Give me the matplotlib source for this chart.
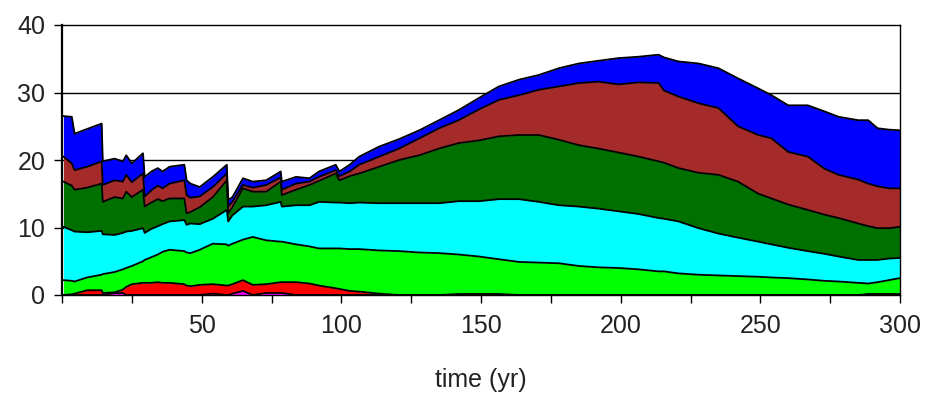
import matplotlib
matplotlib.use('Agg')
import matplotlib.pyplot as plt
import numpy as np

# time (yr)
time = [0.5, 3.5, 4.5, 9, 14.2, 14.6, 18.8, 21.8, 23, 25,
        29.0, 29.6, 32, 34.3, 36, 38.5, 43.8, 44.6, 46, 49.3,
        54, 59.0, 59.5, 61, 64.8, 68.3, 73.1, 78.3, 78.7, 83.8,
        88.6, 92, 98, 99.3, 103, 106.4, 113.6, 120.7, 127.9, 135,
        142, 149.3, 156.4, 163.6, 170.7, 177.9, 185, 192, 199.3, 206.4,
        213.6, 215.5, 220.7, 227.9, 235, 242, 249.3, 254, 260, 267,
        273, 278, 285, 288.6, 292, 296, 300]

# cumulative (stacked) tops of each band, bottom to top
top_magenta = [0, 0, 0, 0, 0, 0, 0.3, 0.3, 0, 0,
               0, 0, 0, 0, 0, 0, 0, 0, 0, 0,
               0.2, 0, 0, 0.2, 0.6, 0, 0.3, 0.3, 0.3, 0,
               0, 0, 0, 0, 0, 0, 0, 0, 0, 0,
               0, 0, 0, 0, 0, 0, 0, 0, 0, 0,
               0, 0, 0, 0, 0, 0, 0, 0, 0, 0,
               0, 0, 0, 0, 0, 0, 0]
top_red = [0.0, 0.1, 0.2, 0.7, 0.7, 0.3, 0.4, 0.8, 1.2, 1.6,
           1.8, 1.8, 1.8, 1.9, 1.8, 1.8, 1.6, 1.4, 1.3, 1.5,
           1.6, 1.4, 1.4, 1.6, 2.2, 1.5, 1.6, 1.9, 1.9, 1.9,
           1.7, 1.4, 1.0, 0.9, 0.6, 0.5, 0.2, 0.0, 0.0, 0.0,
           0.15, 0.15, 0.15, 0, 0, 0, 0, 0, 0, 0,
           0, 0, 0, 0, 0, 0, 0, 0, 0, 0,
           0, 0, 0, 0.15, 0.15, 0.15, 0.15]
top_lime = [2.2, 2.1, 2.0, 2.6, 3.0, 3.1, 3.4, 3.8, 4.0, 4.3,
            5.0, 5.2, 5.6, 6.0, 6.4, 6.7, 6.5, 6.3, 6.2, 6.7,
            7.6, 7.5, 7.3, 7.6, 8.2, 8.6, 8.1, 7.9, 7.9, 7.5,
            7.2, 6.9, 6.9, 6.9, 6.8, 6.8, 6.6, 6.5, 6.3, 6.2,
            6.0, 5.7, 5.3, 4.9, 4.8, 4.7, 4.3, 4.1, 4.0, 3.8,
            3.5, 3.5, 3.2, 3.0, 2.9, 2.8, 2.7, 2.6, 2.5, 2.3,
            2.1, 2.0, 1.8, 1.7, 1.9, 2.2, 2.5]
top_cyan = [10.1, 9.6, 9.4, 9.3, 9.5, 9.0, 8.9, 9.2, 9.4, 9.5,
            9.9, 9.2, 9.8, 10.2, 10.5, 10.9, 11.1, 10.4, 10.6, 10.5,
            11.3, 12.6, 10.9, 11.8, 13.1, 13.1, 13.3, 13.8, 13.1, 13.3,
            13.3, 13.8, 13.7, 13.7, 13.6, 13.7, 13.6, 13.6, 13.6, 13.6,
            13.9, 13.9, 14.2, 14.2, 13.8, 13.3, 13.1, 12.8, 12.4, 12.0,
            11.4, 11.3, 10.9, 9.9, 9.1, 8.5, 7.9, 7.5, 7.0, 6.5,
            6.1, 5.7, 5.2, 5.2, 5.2, 5.4, 5.5]
top_dgreen = [16.8, 16.2, 15.6, 15.9, 16.5, 13.8, 14.5, 14.3, 15.3, 14.5,
              15.6, 13.1, 13.7, 14.2, 13.9, 14.3, 14.3, 12.1, 12.3, 13.0,
              14.5, 17.0, 12.1, 13.0, 15.8, 15.3, 15.3, 16.8, 14.8, 15.6,
              16.3, 16.9, 18.0, 17.0, 17.6, 18.0, 19.0, 20.0, 20.7, 21.7,
              22.5, 22.9, 23.5, 23.7, 23.7, 23.0, 22.2, 21.7, 21.1, 20.5,
              19.8, 19.6, 18.8, 18.1, 17.8, 16.8, 15.0, 14.3, 13.4, 12.6,
              11.9, 11.4, 10.6, 10.2, 9.9, 9.9, 10.1]
top_brown = [20.5, 19.5, 18.5, 19.0, 19.8, 16.3, 17.0, 16.8, 17.8, 16.7,
             18.0, 14.6, 15.5, 16.2, 15.8, 16.5, 17.0, 14.8, 14.4, 14.6,
             16.0, 18.0, 13.1, 13.8, 16.3, 15.9, 16.3, 17.4, 15.6, 16.5,
             16.8, 17.5, 18.5, 17.6, 18.3, 19.3, 20.5, 21.7, 23.2, 24.7,
             25.9, 27.5, 28.9, 29.6, 30.4, 30.9, 31.4, 31.6, 31.2, 31.5,
             31.4, 30.3, 29.4, 28.4, 27.7, 25.0, 23.7, 23.2, 21.2, 20.5,
             18.7, 17.8, 17.1, 16.5, 16.1, 15.8, 15.8]
top_blue = [26.5, 26.4, 23.9, 24.6, 25.4, 19.8, 20.2, 19.8, 20.7, 19.5,
            21.0, 17.5, 18.3, 18.8, 18.3, 19.0, 19.3, 17.0, 16.5, 16.0,
            17.5, 19.3, 14.1, 14.5, 17.3, 16.8, 17.0, 18.3, 16.8, 17.5,
            17.3, 18.3, 19.3, 18.3, 19.3, 20.5, 22.0, 23.1, 24.4, 25.9,
            27.4, 29.2, 30.9, 31.9, 32.6, 33.6, 34.3, 34.7, 35.1, 35.3,
            35.6, 35.2, 34.6, 34.3, 33.6, 32.1, 30.6, 29.6, 28.1, 28.1,
            27.2, 26.4, 25.9, 25.9, 24.7, 24.5, 24.4]

layers = [top_magenta, top_red, top_lime, top_cyan, top_dgreen, top_brown, top_blue]
colors = ['#FF00FF', '#FF0000', '#00FF00', '#00FFFF', '#007000', '#A52A2A', '#0000FF']

x_ticks = [0, 25, 50, 75, 100, 125, 150, 175, 200, 225, 250, 275, 300]
x_ticklabels = ['', '', '50', '', '100', '', '150', '', '200', '', '250', '', '300']
y_ticks = [0, 10, 20, 30, 40]

plt.rcParams['font.family'] = ['Liberation Sans', 'DejaVu Sans']

W, H = 927, 396
fig = plt.figure(figsize=(W / 100, H / 100), dpi=100)
ax = fig.add_axes([62 / W, 1 - 295 / H, (900 - 62) / W, (295 - 25) / H])

t = np.array(time)
lower = np.zeros(len(t))
for top, c in zip(layers, colors):
    top = np.array(top, dtype=float)
    ax.fill_between(t, lower, top, color=c, lw=0, zorder=2)
    lower = top
for top in layers:
    ax.plot(t, top, color='black', lw=1.3, zorder=3)

for yv in y_ticks[1:-1]:
    ax.axhline(yv, color='black', lw=1.0, zorder=1)

ax.set_xlim(0, 300)
ax.set_ylim(0, 40)
ax.set_xticks(x_ticks)
ax.set_xticklabels(x_ticklabels)
ax.set_yticks(y_ticks)
ax.tick_params(axis='both', direction='out', length=6, width=1, colors='black',
               labelsize=18, labelcolor='#222222')
ax.tick_params(axis='x', pad=8)
ax.tick_params(axis='y', pad=6)
for s in ax.spines.values():
    s.set_linewidth(1.0)
    s.set_color('black')
ax.spines['left'].set_linewidth(1.6)

ax.set_xlabel('time (yr)', fontsize=18, color='#222222')
ax.xaxis.set_label_coords(0.5, -(380 - 295) / 270)
ax.xaxis.label.set_va('center')

fig.savefig('out.png', dpi=100)
